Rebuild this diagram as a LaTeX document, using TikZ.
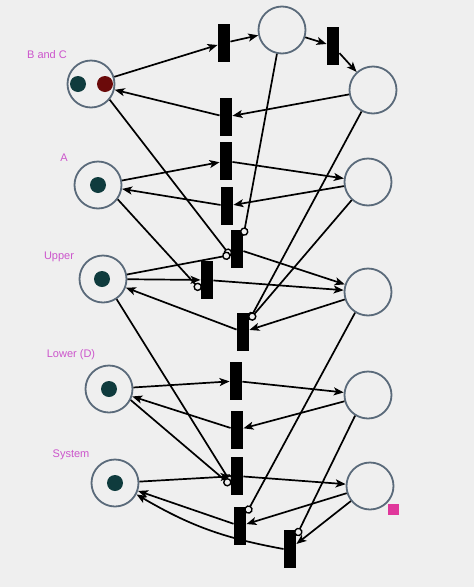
\documentclass[tikz,border=0pt]{standalone}
\usepackage{fontspec}
\setmainfont{Liberation Sans}
\usetikzlibrary{arrows.meta,calc}
\definecolor{bg}{HTML}{EFEFEF}
\definecolor{placeedge}{HTML}{5A6A7A}
\definecolor{tokteal}{HTML}{0F3B3D}
\definecolor{tokred}{HTML}{6B0A0A}
\definecolor{lbl}{HTML}{CC55CC}
\definecolor{pinkmark}{HTML}{E0379B}
\begin{document}
\begin{tikzpicture}[x=1pt,y=-1pt,
 pl/.style={circle,draw=placeedge,line width=1.8pt,fill=bg,minimum size=47pt,inner sep=0pt},
 tr/.style={rectangle,fill=black,minimum width=12.5pt,minimum height=38pt,inner sep=0pt},
 tok/.style={circle,fill=tokteal,minimum size=16pt,inner sep=0pt},
 flow/.style={line width=1.7pt,-{Stealth[length=10pt,width=8pt,inset=2.5pt]}},
 inhib/.style={line width=1.7pt,-{Circle[length=8.5pt,width=8.5pt,fill=bg,line width=1.4pt]}},
 lbltext/.style={text=lbl,font=\fontsize{11}{13}\selectfont,inner sep=0pt},
 ]
\useasboundingbox (0,0) rectangle (474,587);
\fill[bg] (0,0) rectangle (474,587);
% labels
\node[lbltext] (lBC) at (47,55) {B and C};
\node[lbltext] (lA) at (64,158) {A};
\node[lbltext] (lU) at (59,257) {Upper};
\node[lbltext] (lL) at (71,355) {Lower (D)};
\node[lbltext] (lS) at (71,455) {System};
% places
\node[pl] (pBC) at (91,84) {};
\node[pl] (pA) at (98,185) {};
\node[pl] (pU) at (103,279) {};
\node[pl] (pL) at (109,389) {};
\node[pl] (pS) at (115,483) {};
\node[pl] (r1) at (282,30) {};
\node[pl] (r2) at (373,90) {};
\node[pl] (r3) at (368,182) {};
\node[pl] (r4) at (368,292) {};
\node[pl] (r5) at (368,395) {};
\node[pl] (r6) at (370,486) {};
% tokens
\node[tok] (k1) at (78,84) {};
\node[tok,fill=tokred] (k2) at (105,84) {};
\node[tok] (k3) at (98,185) {};
\node[tok] (k4) at (102,279) {};
\node[tok] (k5) at (109,389) {};
\node[tok] (k6) at (115,483) {};
% transitions
\node[tr] (t1) at (224,43) {};
\node[tr] (t2) at (333,46) {};
\node[tr] (t3) at (226,117) {};
\node[tr] (t4) at (226,161) {};
\node[tr] (t5) at (227,206) {};
\node[tr] (t6) at (237,249) {};
\node[tr] (t7) at (207,280) {};
\node[tr] (t8) at (243,332) {};
\node[tr] (t9) at (236,381) {};
\node[tr] (t10) at (237,430) {};
\node[tr] (t11) at (237,476) {};
\node[tr] (t12) at (240,526) {};
\node[tr] (t13) at (290,549) {};
% arcs
\draw[flow] (pBC) -- (t1);
\draw[flow] (t1) -- (r1);
\draw[flow] (r1) -- (t2);
\draw[flow] (t2) -- (r2);
\draw[flow] (r2) -- (t3);
\draw[flow] (t3) -- (pBC);
\draw[flow] (pA) -- (t4);
\draw[flow] (t4) -- (r3);
\draw[flow] (r3) -- (t5);
\draw[flow] (t5) -- (pA);
\draw[inhib] (pBC.-40) -- ($(t6.west)+(0,7)$);
\draw[inhib] (pU) -- ($(t6.west)+(0,6)$);
\draw[inhib] (r1.-102) -- ($(t6.north east)+(0,6)$);
\draw[flow] (t6) -- (r4);
\draw[inhib] (pA.-36) -- ($(t7.west)+(0,10)$);
\draw[flow] (pU) -- (t7);
\draw[flow] (t7) -- (r4);
\draw[flow] (r4) -- (t8);
\draw[flow] (t8) -- (pU);
\draw[inhib] (r2.-118) -- ($(t8.north east)+(0,7)$);
\draw[inhib] (r3.-132) -- ($(t8.north east)+(0,7)$);
\draw[inhib] (r4.-122) -- ($(t12.north east)+(0,6.5)$);
\draw[inhib] (r5.-122) -- ($(t13.north east)+(0,6)$);
\draw[flow] (pL) -- (t9);
\draw[flow] (t9) -- (r5);
\draw[flow] (r5) -- (t10);
\draw[flow] (t10) -- (pL);
\draw[inhib] (pU.-56) -- ($(t11.west)+(0,6)$);
\draw[inhib] (pL.-27) -- ($(t11.west)+(0,9)$);
\draw[flow] (pS) -- (t11);
\draw[flow] (t11) -- (r6);
\draw[flow] (r6) -- (t12);
\draw[flow] (t12) -- (pS);
\draw[flow] (r6) -- (t13);
\draw[flow] (t13.west) to[bend left=10] (pS.-28);
% marker
\fill[pinkmark] (388,504) rectangle (399,515);
\end{tikzpicture}
\end{document}
